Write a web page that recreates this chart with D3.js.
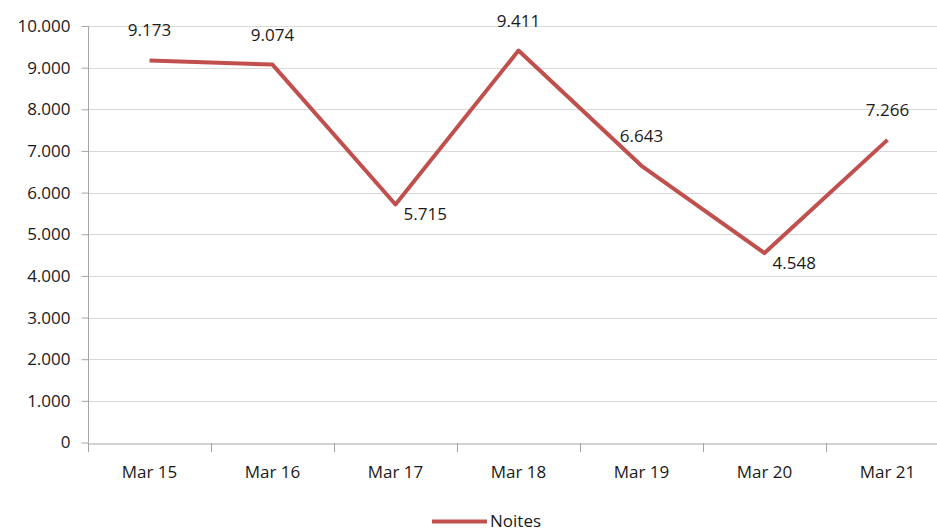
<!DOCTYPE html>
<html>
<head>
<meta charset="utf-8">
<script src="https://cdn.jsdelivr.net/npm/d3@7"></script>
<style>
  html, body { margin: 0; padding: 0; background: #fff; }
  svg { display: block; }
  text { font-family: "Open Sans", "Liberation Sans", sans-serif; fill: #1a1a1a; }
</style>
</head>
<body>
<svg id="chart" width="937" height="531"></svg>
<script>
const categories = ["Mar 15", "Mar 16", "Mar 17", "Mar 18", "Mar 19", "Mar 20", "Mar 21"];
const noites = [9173, 9074, 5715, 9411, 6643, 4548, 7266];
const yTicks = [0, 1000, 2000, 3000, 4000, 5000, 6000, 7000, 8000, 9000, 10000];
const labelPlacement = ["above", "above", "belowRight", "above", "above", "belowRight", "above"];
const seriesName = "Noites";

const svg = d3.select("#chart");
const plot = { left: 88, right: 949, top: 26, bottom: 442.5 };
const FS = "17px";

const x = d3.scaleBand().domain(categories).range([plot.left, plot.right]).paddingInner(0).paddingOuter(0);
const y = d3.scaleLinear().domain([0, 10000]).range([plot.bottom, plot.top]);

const fmt = d3.formatLocale({ decimal: ",", thousands: ".", grouping: [3], currency: ["", ""] }).format(",.0f");

// gridlines
svg.append("g").selectAll("line").data(yTicks.filter(d => d > 0)).join("line")
  .attr("x1", plot.left).attr("x2", plot.right)
  .attr("y1", d => Math.round(y(d)) + 0.5).attr("y2", d => Math.round(y(d)) + 0.5)
  .attr("stroke", "#d9d9d9").attr("stroke-width", 1);

// y axis
const yAxis = svg.append("g").attr("transform", `translate(${plot.left + 0.5},0)`)
  .call(d3.axisLeft(y).tickValues(yTicks).tickFormat(fmt).tickSize(7).tickPadding(11));
yAxis.select(".domain").attr("stroke", "#a6a6a6").attr("d", `M0,${plot.top}V${plot.bottom}`);
yAxis.selectAll(".tick line").attr("stroke", "#a6a6a6");
yAxis.selectAll(".tick text").style("font-size", FS).attr("fill", "#1a1a1a").style("font-family", "'Open Sans', sans-serif");

// x axis
const xAxis = svg.append("g").attr("transform", `translate(0,${Math.round(plot.bottom) + 0.5})`)
  .call(d3.axisBottom(x).tickSize(0).tickPadding(22));
xAxis.select(".domain").attr("stroke", "#a6a6a6");
xAxis.selectAll(".tick text").style("font-size", FS).attr("fill", "#1a1a1a").style("font-family", "'Open Sans', sans-serif");
// category boundary tick marks
svg.append("g").selectAll("line").data(categories).join("line")
  .attr("x1", d => Math.round(x(d)) + 0.5).attr("x2", d => Math.round(x(d)) + 0.5)
  .attr("y1", Math.round(plot.bottom)).attr("y2", Math.round(plot.bottom) + 9)
  .attr("stroke", "#a6a6a6");

// line
const cx = d => x(d) + x.bandwidth() / 2;
const line = d3.line().x((d, i) => cx(categories[i])).y(d => y(d));
svg.append("path").datum(noites)
  .attr("d", line)
  .attr("fill", "none").attr("stroke", "#C0504D").attr("stroke-width", 4)
  .attr("stroke-linejoin", "round").attr("stroke-linecap", "butt");

// data labels
svg.append("g").selectAll("text").data(noites).join("text")
  .attr("x", (d, i) => labelPlacement[i] === "above" ? cx(categories[i]) : cx(categories[i]) + 8)
  .attr("y", (d, i) => labelPlacement[i] === "above" ? y(d) - 24 : y(d) + 16)
  .attr("text-anchor", (d, i) => labelPlacement[i] === "above" ? "middle" : "start")
  .style("font-size", FS)
  .text(d => fmt(d));

// legend
const lg = svg.append("g");
lg.append("line").attr("x1", 432).attr("x2", 487).attr("y1", 521.5).attr("y2", 521.5)
  .attr("stroke", "#C0504D").attr("stroke-width", 4);
lg.append("text").attr("x", 490).attr("y", 527).style("font-size", FS).text(seriesName);
</script>
</body>
</html>
